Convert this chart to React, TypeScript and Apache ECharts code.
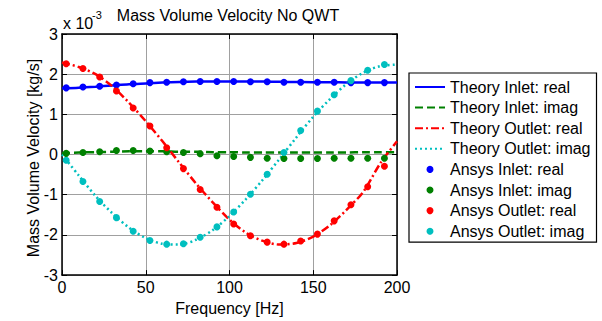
import React, { useEffect, useRef } from "react";
import * as echarts from "echarts";

const theoryFreq = [0, 10, 20, 30, 40, 50, 60, 70, 80, 90, 100, 110, 120, 130, 140, 150, 160, 170, 180, 190, 200];
const theoryInletReal = [1.65, 1.665, 1.69, 1.72, 1.75, 1.77, 1.79, 1.805, 1.815, 1.82, 1.82, 1.82, 1.815, 1.81, 1.805, 1.8, 1.8, 1.795, 1.795, 1.795, 1.795];
const theoryInletImag = [0.03, 0.05, 0.06, 0.07, 0.08, 0.08, 0.08, 0.07, 0.07, 0.06, 0.06, 0.05, 0.05, 0.05, 0.05, 0.05, 0.05, 0.05, 0.06, 0.06, 0.06];
const theoryOutletReal = [2.29, 2.18, 2.0, 1.7, 1.29, 0.83, 0.33, -0.2, -0.72, -1.19, -1.62, -1.95, -2.15, -2.24, -2.2, -2.04, -1.76, -1.37, -0.92, -0.22, 0.33];
const theoryOutletImag = [0.0, -0.52, -1.03, -1.46, -1.82, -2.08, -2.22, -2.24, -2.12, -1.88, -1.53, -1.1, -0.62, -0.1, 0.43, 0.94, 1.38, 1.76, 2.04, 2.2, 2.24];

const ansysFreq = [2.5, 12.5, 22.5, 32.5, 42.5, 52.5, 62.5, 72.5, 82.5, 92.5, 102.5, 112.5, 122.5, 132.5, 142.5, 152.5, 162.5, 172.5, 182.5, 192.5];
const ansysInletReal = [1.66, 1.68, 1.7, 1.73, 1.76, 1.79, 1.8, 1.81, 1.82, 1.82, 1.82, 1.81, 1.81, 1.8, 1.8, 1.8, 1.8, 1.79, 1.79, 1.79];
const ansysInletImag = [0.03, 0.05, 0.07, 0.1, 0.1, 0.09, 0.07, 0.05, 0.02, -0.03, -0.05, -0.07, -0.09, -0.1, -0.1, -0.1, -0.09, -0.09, -0.09, -0.09];
const ansysOutletReal = [2.26, 2.14, 1.93, 1.58, 1.16, 0.71, 0.17, -0.35, -0.87, -1.31, -1.73, -2.02, -2.18, -2.23, -2.15, -1.98, -1.65, -1.25, -0.8, -0.29];
const ansysOutletImag = [-0.14, -0.67, -1.17, -1.57, -1.91, -2.14, -2.23, -2.22, -2.06, -1.8, -1.43, -0.99, -0.49, 0.05, 0.6, 1.08, 1.49, 1.84, 2.1, 2.24];

const theoryNames = ["Theory Inlet: real", "Theory Inlet: imag", "Theory Outlet: real", "Theory Outlet: imag"];
const ansysNames = ["Ansys Inlet: real", "Ansys Inlet: imag", "Ansys Outlet: real", "Ansys Outlet: imag"];

const xTicks = { min: 0, max: 200, interval: 50 };
const yTicks = { min: -3, max: 3, interval: 1 };

const FONT = "'Liberation Sans', Arial, sans-serif";

function pairs(xs: number[], ys: number[]) {
  return xs.map((x, i) => [x, ys[i]]);
}

export default function App() {
  const ref = useRef<HTMLDivElement>(null);
  useEffect(() => {
    document.body.style.margin = "0";
    const chart = echarts.init(ref.current!, null, { renderer: "svg" });
    const axisCommon = {
      axisLine: { show: true, onZero: false, lineStyle: { color: "#000", width: 1.5 } },
      axisTick: { show: true, inside: true, length: 5, lineStyle: { color: "#000", width: 1 } },
    };
    const lineSeries = (name: string, ys: number[], color: string, type: any) => ({
      name,
      type: "line",
      data: pairs(theoryFreq, ys),
      smooth: 0.3,
      symbol: "none",
      xAxisIndex: 0,
      yAxisIndex: 0,
      lineStyle: { color, width: 2.5, type, cap: "butt" },
      itemStyle: { color },
      z: 2,
    });
    const scatterSeries = (name: string, ys: number[], color: string) => ({
      name,
      type: "scatter",
      data: pairs(ansysFreq, ys),
      symbol: "circle",
      symbolSize: 7,
      itemStyle: { color, opacity: 1 },
      xAxisIndex: 0,
      yAxisIndex: 0,
      z: 3,
    });
    const hidden = "rgba(0,0,0,0)";
    chart.setOption({
      animation: false,
      backgroundColor: "#fff",
      textStyle: { fontFamily: FONT },
      title: {
        text: "Mass Volume Velocity No QWT",
        left: 228,
        textAlign: "center",
        top: 7,
        padding: 0,
        textStyle: { fontFamily: FONT, fontSize: 16, fontWeight: "normal", color: "#000" },
      },
      grid: { left: 62, top: 34, width: 335, height: 248, containLabel: false },
      xAxis: [
        {
          type: "value",
          position: "bottom",
          ...xTicks,
          ...axisCommon,
          name: "Frequency [Hz]",
          nameLocation: "middle",
          nameGap: 23,
          nameTextStyle: { fontFamily: FONT, fontSize: 16, color: "#000" },
          axisLabel: { fontFamily: FONT, fontSize: 16, color: "#000", margin: 4 },
          splitLine: { show: true, lineStyle: { color: "#a0a0a0", width: 1 } },
        },
        {
          type: "value",
          position: "top",
          ...xTicks,
          ...axisCommon,
          axisLabel: { show: false },
          splitLine: { show: false },
        },
      ],
      yAxis: [
        {
          type: "value",
          position: "left",
          ...yTicks,
          ...axisCommon,
          axisLabel: { fontFamily: FONT, fontSize: 16, color: "#000", margin: 4 },
          splitLine: { show: true, lineStyle: { color: "#a0a0a0", width: 1 } },
        },
        {
          type: "value",
          position: "right",
          ...yTicks,
          ...axisCommon,
          axisLabel: { show: false },
          splitLine: { show: false },
        },
      ],
      legend: {
        orient: "vertical",
        left: 409,
        top: 73,
        padding: [6, 6, 3, 5],
        itemGap: 4.6,
        itemWidth: 30,
        itemHeight: 7,
        borderColor: "#000",
        borderWidth: 1.2,
        borderRadius: 0,
        backgroundColor: "#fff",
        textStyle: { fontFamily: FONT, fontSize: 16, color: "#000", lineHeight: 16 },
        data: [
          ...theoryNames.map((name) => ({
            name,
            itemStyle: { color: hidden, borderColor: hidden, borderWidth: 0, opacity: 0 },
          })),
          ...ansysNames.map((name) => ({ name, icon: "circle" })),
        ],
      },
      graphic: [
        {
          type: "text",
          x: 33,
          y: 158,
          rotation: Math.PI / 2,
          style: {
            text: "Mass Volume Velocity [kg/s]",
            font: `16px ${FONT}`,
            fill: "#000",
            align: "center",
            verticalAlign: "middle",
          },
        },
        {
          type: "text",
          left: 63,
          top: 15,
          style: { text: "x 10", font: `16px ${FONT}`, fill: "#000" },
        },
        {
          type: "text",
          left: 92,
          top: 9,
          style: { text: "-3", font: `11px ${FONT}`, fill: "#000" },
        },
      ],
      series: [
        lineSeries(theoryNames[0], theoryInletReal, "#0000ff", "solid"),
        lineSeries(theoryNames[1], theoryInletImag, "#008000", [8, 4]),
        lineSeries(theoryNames[2], theoryOutletReal, "#ff0000", [8, 3, 2, 3]),
        lineSeries(theoryNames[3], theoryOutletImag, "#00bfbf", [2, 3]),
        scatterSeries(ansysNames[0], ansysInletReal, "#0000ff"),
        scatterSeries(ansysNames[1], ansysInletImag, "#008000"),
        scatterSeries(ansysNames[2], ansysOutletReal, "#ff0000"),
        scatterSeries(ansysNames[3], ansysOutletImag, "#00bfbf"),
      ],
    });
    return () => chart.dispose();
  }, []);
  return <div ref={ref} style={{ width: 602, height: 321 }} />;
}
